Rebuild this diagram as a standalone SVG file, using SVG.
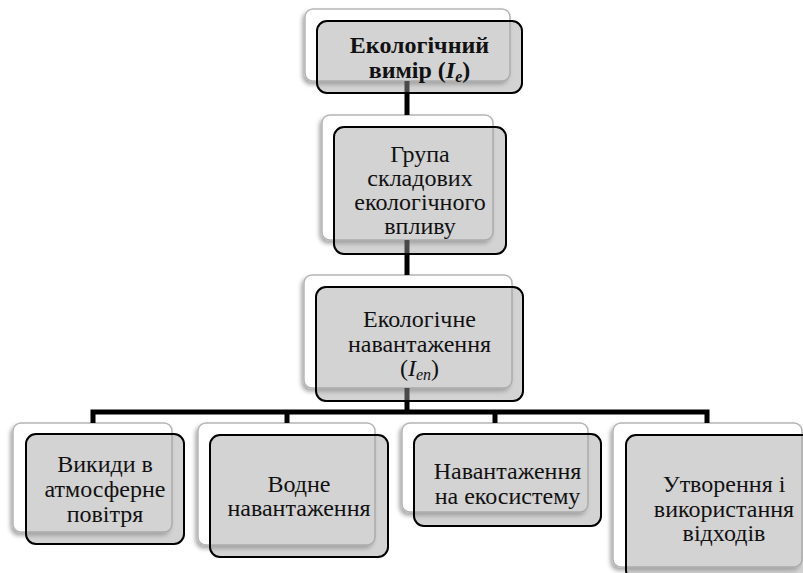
<svg xmlns="http://www.w3.org/2000/svg" width="803" height="573" viewBox="0 0 803 573">
<defs>
<filter id="sh" x="-20%" y="-20%" width="140%" height="150%">
<feDropShadow dx="-2" dy="3" stdDeviation="2" flood-color="#000" flood-opacity="0.35"/>
</filter>
</defs>
<style>
.back{fill:#fff;stroke:#b5b5b5;stroke-width:1.5;filter:url(#sh)}
.front{fill:#a0a0a0;fill-opacity:0.46;stroke:#000;stroke-width:2}
.conn{stroke:#000;stroke-width:5;fill:none}
.t{font-family:"Liberation Serif","Times New Roman",serif;font-size:24px;fill:#111;text-anchor:middle}
.b{font-weight:bold}
.sub{font-size:16px;font-style:italic}
.it{font-style:italic}
</style>
<rect width="803" height="573" fill="#fff"/>
<g id="backs">
<rect class="back" x="305" y="9" width="205" height="72" rx="8"/>
<rect class="back" x="322" y="115" width="171" height="125" rx="8"/>
<rect class="back" x="304" y="275" width="208" height="113" rx="8"/>
<rect class="back" x="13" y="423" width="159" height="109" rx="8"/>
<rect class="back" x="198" y="423" width="177" height="122" rx="8"/>
<rect class="back" x="402" y="423" width="186" height="89" rx="8"/>
<rect class="back" x="613" y="423" width="189" height="144" rx="8"/>
</g>
<g id="connectors">
<line class="conn" x1="407" y1="81" x2="407" y2="115"/>
<line class="conn" x1="407" y1="240" x2="407" y2="275"/>
<line class="conn" x1="407" y1="388" x2="407" y2="412"/>
<polyline class="conn" points="93,423 93,412 707,412 707,423"/>
<line class="conn" x1="287" y1="412" x2="287" y2="423"/>
<line class="conn" x1="495" y1="412" x2="495" y2="423"/>
</g>
<g id="node-ie">
<rect class="front" x="317" y="21" width="205" height="72" rx="10"/>
<text class="t b" x="419.5" y="53">Екологічний</text>
<text class="t b" x="419.5" y="78">вимір (<tspan class="it">I</tspan><tspan class="sub" dy="4">e</tspan><tspan dy="-4">)</tspan></text>
</g>
<g id="node-group">
<rect class="front" x="334" y="127" width="172" height="127" rx="10"/>
<text class="t" x="420" y="162">Група</text>
<text class="t" x="420" y="186">складових</text>
<text class="t" x="420" y="210">екологічного</text>
<text class="t" x="420" y="234">впливу</text>
</g>
<g id="node-ien">
<rect class="front" x="316" y="287" width="207" height="114" rx="10"/>
<text class="t" x="419.5" y="327">Екологічне</text>
<text class="t" x="419.5" y="352">навантаження</text>
<text class="t" x="419.5" y="376">(<tspan class="it">I</tspan><tspan class="sub" dy="4">en</tspan><tspan dy="-4">)</tspan></text>
</g>
<g id="node-air">
<rect class="front" x="26" y="434" width="158" height="110" rx="10"/>
<text class="t" x="105" y="472">Викиди в</text>
<text class="t" x="105" y="497">атмосферне</text>
<text class="t" x="105" y="522">повітря</text>
</g>
<g id="node-water">
<rect class="front" x="210" y="435" width="178" height="122" rx="10"/>
<text class="t" x="299" y="492">Водне</text>
<text class="t" x="299" y="516">навантаження</text>
</g>
<g id="node-eco">
<rect class="front" x="414" y="434" width="187" height="92" rx="10"/>
<text class="t" x="507.5" y="479">Навантаження</text>
<text class="t" x="507.5" y="504">на екосистему</text>
</g>
<g id="node-waste">
<rect class="front" x="626" y="435" width="196" height="145" rx="10"/>
<text class="t" x="724" y="492">Утворення і</text>
<text class="t" x="724" y="517">використання</text>
<text class="t" x="724" y="541">відходів</text>
</g>
</svg>
